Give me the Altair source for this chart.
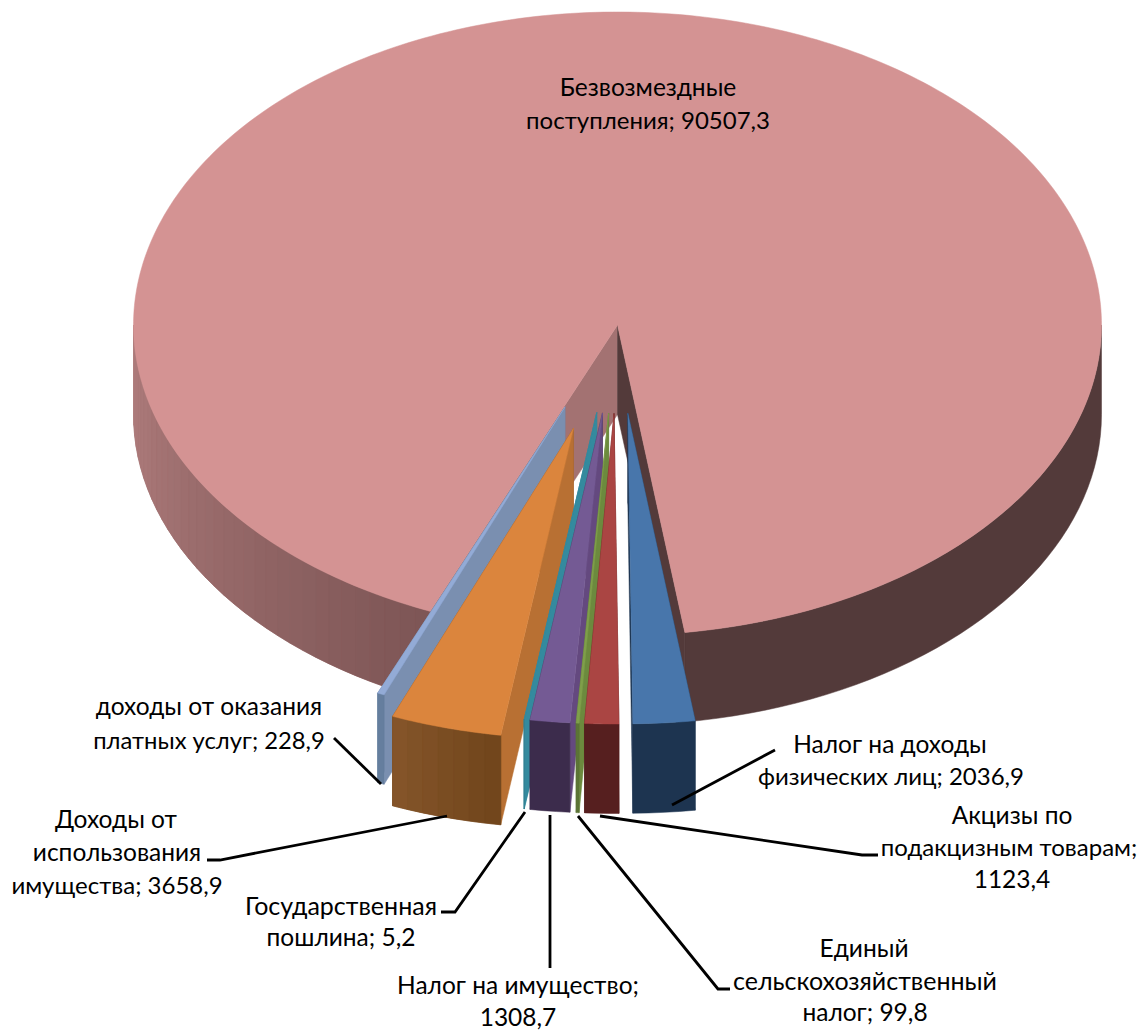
import math
import pandas as pd
import altair as alt

# ---- chart values
categories = ["Налог на доходы физических лиц", "Акцизы по подакцизным товарам",
              "Единый сельскохозяйственный налог", "Налог на имущество",
              "Государственная пошлина", "Доходы от использования имущества",
              "доходы от оказания платных услуг", "Безвозмездные поступления"]
values = [2036.9, 1123.4, 99.8, 1308.7, 5.2, 3658.9, 228.9, 90507.3]
explode = [0.285, 0.285, 0.285, 0.285, 0.285, 0.345, 0.285, 0.0]
top_colors = ["#4876AB", "#AA4543", "#7F9F4A", "#745A94", "#358A9E", "#DB853D", "#93ABD6", "#D49393"]
wall_left = ["#1D3450", "#561F1F", "#5C7436", "#3C2C4C", "#3A8A9A", "#85552A", "#657E9E", "#B27F7F"]
wall_right = ["#1D3450", "#561F1F", "#5C7436", "#3C2C4C", "#2F7C8E", "#70451B", "#657E9E", "#7D5555"]
cut_left = ["#1D3450", "#561F1F", "#5C7436", "#3C2C4C", "#3A8A9A", "#85552A", "#657E9E", "#A37272"]
cut_right = ["#1D3450", "#561F1F", "#6C8A3E", "#64497F", "#348A9E", "#B87033", "#7A8FB0", "#533A3A"]
right_wall_main = "#533A3A"

label_lines = [
    ("Безвозмездные", 648, 89, 24.5), ("поступления; 90507,3", 648, 122, 24),
    ("доходы от оказания", 209, 708, 24.5), ("платных услуг; 228,9", 209, 742, 23.8),
    ("Доходы от", 116, 821, 24.5), ("использования", 117, 854, 24.5), ("имущества; 3658,9", 117, 887, 24),
    ("Государственная", 341, 907, 25), ("пошлина; 5,2", 341, 939, 24.5),
    ("Налог на имущество;", 518, 987, 24.5), ("1308,7", 518, 1019, 24.5),
    ("Налог на доходы", 890, 746, 24.5), ("физических лиц; 2036,9", 891, 778, 24),
    ("Акцизы по", 1012, 817, 24.5), ("подакцизным товарам;", 1009, 849, 24), ("1123,4", 1012, 881, 24.5),
    ("Единый", 864, 950, 24.5), ("сельскохозяйственный", 865, 982, 25), ("налог; 99,8", 865, 1014, 24.5),
]
leaders = [
    [(334, 738), (381, 784)],
    [(207, 860), (220, 860), (447, 816)],
    [(441, 912), (455, 912), (525, 812)],
    [(550, 815), (550, 968)],
    [(578, 816), (718, 989), (730, 989)],
    [(600, 816), (862, 855), (878, 855)],
    [(672, 805), (775, 750)],
]

# ---- pie geometry of the tilted view
CX, CY, RX, RY_BACK, RY_FRONT, DEPTH = 617.5, 325.0, 484.0, 313.0, 310.5, 89.5
START = 8.0
total = sum(values)


def hex_mix(a, b, t):
    ca = [int(a[i:i + 2], 16) for i in (1, 3, 5)]
    cb = [int(b[i:i + 2], 16) for i in (1, 3, 5)]
    return "#" + "".join(f"{round(x + (y - x) * t):02x}" for x, y in zip(ca, cb))


polys = []
pid = 0


def add(points, color):
    global pid
    pid += 1
    for k, (x, y) in enumerate(points):
        polys.append({"pid": f"{pid:05d}", "k": k, "x": x, "y": y, "c": color})


def rim(ax, ay, deg):
    t = math.radians(deg)
    c = math.cos(t)
    return ax + RX * math.sin(t), ay + (RY_FRONT if c > 0 else RY_BACK) * c


def sweep(a, b, step=1.5):
    n = max(1, int(abs(b - a) / step) + 1)
    return [a + (b - a) * i / n for i in range(n + 1)]


def outer_wall(ax, ay, a, b, cl, cr, step=2.0):
    """Front wall running from angle a to angle b, shaded from cl to cr."""
    angs = sweep(a, b, step)
    edge = [rim(ax, ay, d) for d in angs]
    add(edge + [(x, y + DEPTH) for x, y in reversed(edge)], hex_mix(cl, cr, 0.5))
    if cl == cr:
        return
    for n, (u, v) in enumerate(zip(angs[:-1], angs[1:])):
        x1, y1 = rim(ax, ay, u)
        x2, y2 = rim(ax, ay, v)
        t = (n + 0.5) / (len(angs) - 1)
        add([(x1, y1), (x2, y2), (x2, y2 + DEPTH), (x1, y1 + DEPTH)], hex_mix(cl, cr, t))


angle = START
slices = []
for v in values:
    sw = v / total * 360
    slices.append((angle - sw, angle))
    angle -= sw

# the big slice first (it lies behind), then the rest from left to right
for i in [7, 6, 5, 4, 3, 2, 1, 0]:
    lo, hi = slices[i]
    mid = (lo + hi) / 2
    e = explode[i]
    ax = CX + e * RX * math.sin(math.radians(mid))
    ay = CY + e * RY_FRONT * math.cos(math.radians(mid))
    if i == 7:
        left_edge, right_edge = hi, lo + 360  # sides of the gap the small slices left
        outer_wall(ax, ay, right_edge, 90, right_wall_main, right_wall_main)
        outer_wall(ax, ay, -90, left_edge, wall_left[i], wall_right[i])
        xl, yl = rim(ax, ay, left_edge)
        add([(ax, ay), (xl, yl), (xl, yl + DEPTH), (ax, ay + DEPTH)], cut_left[i])
        xr, yr = rim(ax, ay, right_edge)
        add([(ax, ay), (xr, yr), (xr, yr + DEPTH), (ax, ay + DEPTH)], cut_right[i])
        add([(ax, ay)] + [rim(ax, ay, d) for d in sweep(right_edge, left_edge + 360, 1.0)], top_colors[i])
    else:
        xl, yl = rim(ax, ay, lo)
        xr, yr = rim(ax, ay, hi)
        add([(ax, ay), (xl, yl), (xl, yl + DEPTH), (ax, ay + DEPTH)], cut_left[i])
        add([(ax, ay), (xr, yr), (xr, yr + DEPTH), (ax, ay + DEPTH)], cut_right[i])
        outer_wall(ax, ay, lo, hi, wall_left[i], wall_right[i])
        add([(ax, ay)] + [rim(ax, ay, d) for d in sweep(lo, hi, 0.5)], top_colors[i])

W, H = 1131, 1022
xs = alt.Scale(domain=[8, 8 + W], range=[0, W])
ys = alt.Scale(domain=[8, 8 + H], range=[0, H])
x_enc = alt.X("x:Q", scale=xs, axis=None)
y_enc = alt.Y("y:Q", scale=ys, axis=None)

pie = alt.Chart(pd.DataFrame(polys)).mark_line(strokeWidth=0.5, interpolate="linear-closed").encode(
    x=x_enc, y=y_enc,
    order="k:Q",
    detail="pid:N",
    stroke=alt.Stroke("c:N", scale=None),
    fill=alt.Fill("c:N", scale=None),
)

lead_rows = []
for n, path in enumerate(leaders):
    for k, (x, y) in enumerate(path):
        lead_rows.append({"n": n, "k": k, "x": x, "y": y})
lines = alt.Chart(pd.DataFrame(lead_rows)).mark_line(color="black", strokeWidth=2.8).encode(
    x=x_enc, y=y_enc, order="k:Q", detail="n:N")

texts = alt.Chart(pd.DataFrame(label_lines, columns=["t", "x", "y", "s"])).mark_text(
    font="Lato", color="black", align="center", baseline="middle"
).encode(x=x_enc, y=y_enc, text="t:N", size=alt.Size("s:Q", scale=None, legend=None))

chart = alt.layer(pie, lines, texts).properties(
    width=W, height=H, padding=0, autosize=alt.AutoSizeParams(type="none"),
    background="white",
).configure_view(stroke=None)

chart.save("out.html", embed_options={"renderer": "svg", "actions": False})
